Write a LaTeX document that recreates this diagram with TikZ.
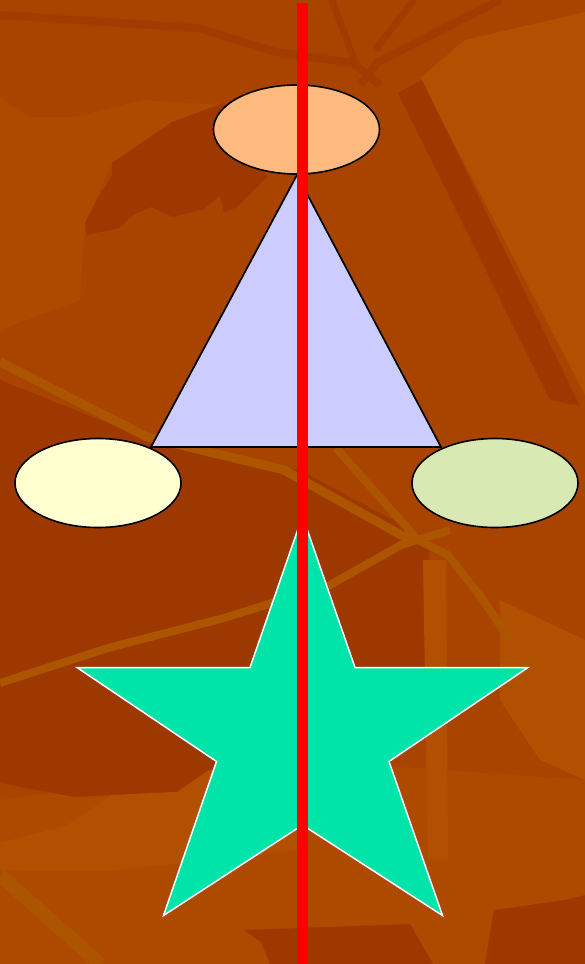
\documentclass[tikz,border=0pt]{standalone}
\usepackage{xcolor}
\usepackage{tikz}
\usetikzlibrary{positioning,backgrounds}
\usetikzlibrary{shapes,shapes.geometric}
\pgfdeclarelayer{edgelayer}
\pgfdeclarelayer{nodelayer}
\pgfsetlayers{background,edgelayer,nodelayer,main}
\definecolor{rust}{RGB}{168,68,0}
\definecolor{rustdark}{RGB}{156,56,0}
\definecolor{rustmid}{RGB}{173,74,0}
\definecolor{rustlight}{RGB}{177,80,0}
\definecolor{ruststreak}{RGB}{172,84,0}
\definecolor{peach}{RGB}{255,187,127}
\definecolor{lilac}{RGB}{204,204,255}
\definecolor{cream}{RGB}{255,255,208}
\definecolor{sage}{RGB}{217,233,180}
\definecolor{mint}{RGB}{0,228,170}
\tikzstyle{none}=[inner sep=0mm]
\tikzstyle{dk}=[fill=rustdark]
\tikzstyle{md}=[fill=rustmid]
\tikzstyle{lt}=[fill=rustlight]
\tikzstyle{dkline}=[draw=rustdark!70!rust,line width=8pt,line join=round]
\tikzstyle{streak}=[draw=ruststreak,line width=9pt,line join=round]
\tikzstyle{oval}=[shape=ellipse,draw=black,line width=1.6pt,inner sep=0pt,minimum width=166pt,minimum height=89pt]
\tikzstyle{po}=[oval,fill=peach]
\tikzstyle{co}=[oval,fill=cream]
\tikzstyle{so}=[oval,fill=sage]
\tikzstyle{tri}=[draw=black,line width=1.7pt,fill=lilac,line join=miter]
\tikzstyle{starfill}=[draw=white,line width=1.5pt,fill=mint,line join=miter]
\tikzstyle{redline}=[draw=red,line width=11.5pt]

\begin{document}
\begin{tikzpicture}[x=1pt,y=-1pt]
	\useasboundingbox (0,0) rectangle (585,964);
	\begin{pgfonlayer}{background}
		\fill [rust] (0,0) rectangle (585,964);
		\fill [md] (0,97) -- (28,117) -- (75,117) -- (142,100) -- (224,105) -- (112,163) -- (85,223) -- (80,300) -- (0,330) -- cycle;
		\fill [lt] (420,78) -- (465,40) -- (585,12) -- (585,395) -- cycle;
		\fill [dk] (112,163) -- (172,122) -- (224,103) -- (267,177) -- (237,207) -- (224,213) -- (220,195) -- (204,209) -- (173,217) -- (151,207) -- (131,216) -- (119,228) -- (87,235) -- (85,223) -- (97,200) -- (112,175) -- cycle;
		\draw [dkline] (0,15) -- (198,28) -- (276,52) -- (353,63) -- (380,85);
		\draw [dkline,line width=7pt] (332,0) -- (355,62);
		\draw [dkline,line width=7pt] (414,0) -- (375,50);
		\draw [dkline] (500,0) -- (378,62) -- (360,85);
		\fill [dk] (398,93) -- (422,80) -- (580,406) -- (550,400) -- cycle;
		\fill [md] (0,800) -- (300,760) -- (585,780) -- (585,964) -- (0,964) -- cycle;
		\fill [dk] (0,380) -- (150,440) -- (300,470) -- (430,540) -- (425,700) -- (300,770) -- (177,792) -- (75,797) -- (0,783) -- cycle;
		\fill [lt] (500,600) -- (585,640) -- (585,780) -- (540,760) -- (500,700) -- cycle;
		\fill [lt] (423,560) -- (446,560) -- (448,860) -- (428,860) -- cycle;
		\fill [lt] (0,843) -- (67,825) -- (112,795) -- (177,792) -- (209,770) -- (300,760) -- (300,850) -- (120,870) -- (0,870) -- cycle;
		\fill [dk] (244,930) -- (410,924) -- (433,964) -- (270,964) -- (261,942) -- cycle;
		\fill [dk] (485,964) -- (494,910) -- (565,900) -- (585,895) -- (585,964) -- cycle;
		\draw [streak] (0,362) -- (147,437) -- (284,470) -- (410,540);
		\draw [streak,line width=8pt] (336,448) -- (418,540) -- (448,555) -- (481,597) -- (510,640);
		\draw [streak,line width=8pt] (0,683) -- (108,648) -- (224,618) -- (330,585) -- (401,545) -- (450,530);
		\draw [streak,line width=14pt] (0,875) -- (100,964);
	\end{pgfonlayer}
	\begin{pgfonlayer}{nodelayer}
		\node [style=po] (top) at (296.5,129.5) {};
		\node [style=co] (left) at (98,483) {};
		\node [style=so] (right) at (495,483) {};
	\end{pgfonlayer}
	\begin{pgfonlayer}{edgelayer}
		\node [style=none] (apex) at (297,175) {};
		\node [style=none] (bl) at (151,447) {};
		\node [style=none] (br) at (441,447) {};
		\node [style=none] (s1) at (302.5,516) {};
		\node [style=none] (s2) at (355,667.5) {};
		\node [style=none] (s3) at (528,667.5) {};
		\node [style=none] (s4) at (389,761.5) {};
		\node [style=none] (s5) at (442.5,915.5) {};
		\node [style=none] (s6) at (302.5,825) {};
		\node [style=none] (s7) at (163.5,915.5) {};
		\node [style=none] (s8) at (216.5,761.5) {};
		\node [style=none] (s9) at (77,667.5) {};
		\node [style=none] (s10) at (250,667.5) {};
		\draw [style=tri] (apex.center) -- (bl.center) -- (br.center) -- cycle;
		\draw [style=starfill] (s1.center) -- (s2.center) -- (s3.center) -- (s4.center) -- (s5.center) -- (s6.center) -- (s7.center) -- (s8.center) -- (s9.center) -- (s10.center) -- cycle;
	\end{pgfonlayer}
	\node [style=none] (up) at (302.5,3) {};
	\node [style=none] (down) at (302.5,964) {};
	\draw [style=redline] (up.center) to (down.center);
\end{tikzpicture}
\end{document}
